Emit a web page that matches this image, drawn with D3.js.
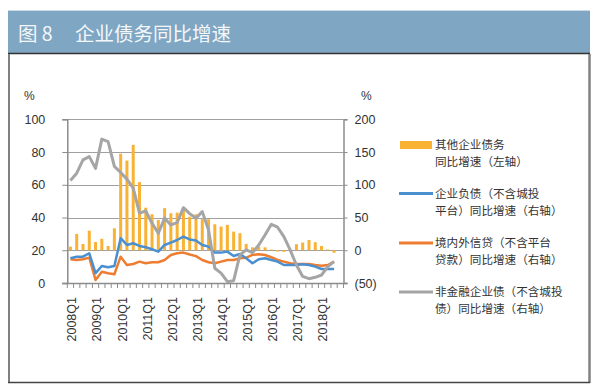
<!DOCTYPE html>
<html><head><meta charset="utf-8">
<script src="https://cdn.jsdelivr.net/npm/d3@7"></script>
<style>
html,body{margin:0;padding:0;background:#fff;}
svg{display:block;}
</style></head>
<body>
<svg id="chart" width="598" height="388"></svg>
<script>
// ---- Data ----
const quarters = [];
for (let y = 2008; y <= 2018; y++) for (let q = 1; q <= 4; q++) quarters.push(y + "Q" + q);
const tickLabels = ["2008Q1","2009Q1","2010Q1","2011Q1","2012Q1","2013Q1","2014Q1","2015Q1","2016Q1","2017Q1","2018Q1"];
const leftTicks = [0,20,40,60,80,100];
const rightTicks = [-50,0,50,100,150,200];
// 其他企业债务同比增速（左轴）— bars originate at the left-axis level 20 (= right-axis 0)
const otherDebt = [22.2,30,23.8,32,25,27,22.6,33.4,79,74.8,84.4,61.6,
  46,42,38.5,45.7,42.6,43,44.6,40.5,42,39,39,35.9,34.5,35.5,31.4,30.4,23.9,21.8,22.2,21.8,
  20.4,19.2,19,20.3,23.7,24.7,26.3,24.9,22.6,20.5,18.5,null];
const barBase = 20;
// 企业负债（不含城投平台）同比增速（右轴）
const corpLiab = [-12.2,-9.8,-9.8,-4.6,-35,-24,-26,-24,18.4,8.1,10.7,6.6,
  4.6,1.5,-2.1,8.1,11.6,15.7,20.8,16.5,15,8.1,5.5,-3.6,-3.6,-2.1,-8.7,-5.7,-12.2,-19.9,-13.8,-12.2,
  -14.8,-17.4,-22.5,-22.5,-22.5,-21.4,-22.5,-25,-28.6,-28.6,-28.6,null];
// 境内外信贷（不含平台贷款）同比增速（右轴）
const creditGrowth = [-13.8,-14.8,-13.8,-11.3,-45.4,-32.7,-35,-36.7,-9.8,-22.5,-21,-17.4,
  -19.9,-18.3,-18.3,-14.8,-7.2,-4.6,-3.6,-6.5,-9,-14.8,-18.3,-19.9,-17.4,-14.8,-14.8,-12.2,-11.3,-7.2,-6.1,-7.2,
  -10.7,-14.8,-17.4,-19.9,-21,-21,-21,-22.5,-23.5,-22.5,-17.4,null];
// 非金融企业债（不含城投债）同比增速（右轴）
const bondGrowth = [106.4,117.7,138,143,125,169.7,166,128,118.7,108.6,94.8,56.6,
  60,41.3,26,49,38.7,42.2,65,56,49,59,31,-27.5,-35,-48,-46.5,-7,0.5,-3.6,8,23.4,
  39.7,35.2,20.8,0.5,-22.5,-40,-43.4,-41.3,-37.8,-25,-17.4,null];

const legendItems = [
  {type:"bar", color:"#f9b233", lines:["其他企业债务","同比增速（左轴）"]},
  {type:"line", color:"#4a8fd0", lines:["企业负债（不含城投","平台）同比增速（右轴）"]},
  {type:"line", color:"#ed7d31", lines:["境内外信贷（不含平台","贷款）同比增速（右轴）"]},
  {type:"line", color:"#a5a5a5", lines:["非金融企业债（不含城投","债）同比增速（右轴）"]}
];

// ---- Layout ----
const svg = d3.select("#chart");
const cnFont = "'Noto Sans CJK SC','Noto Sans',sans-serif";
const numFont = "'Liberation Sans',Arial,sans-serif";

// frame and title bar
svg.append("rect").attr("x",8).attr("y",10).attr("width",582).attr("height",43).attr("fill","#7fa6c2");
svg.append("line").attr("x1",8).attr("x2",590).attr("y1",10.5).attr("y2",10.5).attr("stroke","#c9d9e5").attr("stroke-width",1);
svg.append("line").attr("x1",8).attr("x2",590).attr("y1",53.5).attr("y2",53.5).attr("stroke","#333").attr("stroke-width",1.5);
svg.append("line").attr("x1",9).attr("x2",9).attr("y1",54).attr("y2",383).attr("stroke","#808080").attr("stroke-width",2);
svg.append("line").attr("x1",589.5).attr("x2",589.5).attr("y1",54).attr("y2",383).attr("stroke","#808080").attr("stroke-width",2.5);
svg.append("line").attr("x1",8).attr("x2",590).attr("y1",382.5).attr("y2",382.5).attr("stroke","#444").attr("stroke-width",1.5);
svg.append("text").attr("x",18).attr("y",40.5).attr("fill","#f4f7fa").attr("font-family",cnFont)
  .attr("font-size",19.5).text("图 8");
svg.append("text").attr("x",75).attr("y",40.5).attr("fill","#f4f7fa").attr("font-family",cnFont)
  .attr("font-size",19.5).text("企业债务同比增速");

const x0 = 67.3, x1 = 343.5, yTop = 119.3, yBot = 283;
const x = d3.scaleBand().domain(quarters).range([x0, x1]).padding(0);
const yL = d3.scaleLinear().domain([0,100]).range([yBot, yTop]);
const yR = d3.scaleLinear().domain([-50,200]).range([yBot, yTop]);

const g = svg.append("g");
// gridlines
g.selectAll("line.grid").data(leftTicks.filter(d=>d>0)).join("line")
  .attr("x1",x0).attr("x2",x1).attr("y1",d=>Math.round(yL(d))+0.5).attr("y2",d=>Math.round(yL(d))+0.5)
  .attr("stroke","#a0a0a0").attr("stroke-width",1);

// left axis
const axL = d3.axisLeft(yL).tickValues(leftTicks).tickSize(5).tickPadding(17).tickFormat(d3.format("d"));
const gL = g.append("g").attr("transform",`translate(${x0},0)`).call(axL);
// right axis
const axR = d3.axisRight(yR).tickValues(rightTicks).tickSize(4).tickPadding(7)
  .tickFormat(d => d < 0 ? "(" + Math.abs(d) + ")" : d);
const gR = g.append("g").attr("transform",`translate(${x1},0)`).call(axR);
[gL,gR].forEach(a=>{
  a.select(".domain").attr("stroke","#8c8c8c").attr("stroke-width",1.5);
  a.selectAll(".tick line").attr("stroke","#8c8c8c");
  a.selectAll(".tick text").attr("font-family",numFont).attr("font-size",12.5).attr("fill","#333");
});

// bars
const bw = 3;
g.selectAll("rect.bar").data(quarters.map((q,i)=>({q, v:otherDebt[i]})).filter(d=>d.v!=null)).join("rect")
  .attr("x",d=>x(d.q)+x.bandwidth()/2-bw/2).attr("width",bw)
  .attr("y",d=>Math.min(yL(d.v),yL(barBase))).attr("height",d=>Math.abs(yL(d.v)-yL(barBase)))
  .attr("fill","#f9b233");

// x axis
const gX = g.append("g").attr("transform",`translate(0,${yBot})`);
gX.append("line").attr("x1",x0-5).attr("x2",x1+4).attr("y1",0.5).attr("y2",0.5).attr("stroke","#8c8c8c").attr("stroke-width",1.5);
gX.selectAll("line.tk").data(d3.range(quarters.length+1)).join("line")
  .attr("x1",i=>x0+i*x.step()).attr("x2",i=>x0+i*x.step()).attr("y1",0).attr("y2",5)
  .attr("stroke","#8c8c8c").attr("stroke-width",1);
gX.selectAll("text").data(tickLabels).join("text")
  .attr("transform",d=>`translate(${x(d)+x.bandwidth()/2+1.5},14) rotate(-90)`)
  .attr("text-anchor","end").attr("dy","0.35em")
  .attr("font-family",numFont).attr("font-size",12.5).attr("fill","#333").text(d=>d);

// lines
const mkLine = arr => d3.line().defined(d=>d!=null)
  .x((d,i)=>x(quarters[i])+x.bandwidth()/2).y(d=>yR(d))(arr);
g.append("path").attr("d",mkLine(creditGrowth)).attr("fill","none").attr("stroke","#ed7d31").attr("stroke-width",2.5).attr("stroke-linejoin","round");
g.append("path").attr("d",mkLine(corpLiab)).attr("fill","none").attr("stroke","#4a8fd0").attr("stroke-width",2.5).attr("stroke-linejoin","round");
g.append("path").attr("d",mkLine(bondGrowth)).attr("fill","none").attr("stroke","#a5a5a5").attr("stroke-width",3).attr("stroke-linejoin","round");

// unit labels
svg.append("text").attr("x",24).attr("y",100).attr("font-family",numFont).attr("font-size",12).attr("fill","#333").text("%");
svg.append("text").attr("x",361).attr("y",100).attr("font-family",numFont).attr("font-size",12).attr("fill","#333").text("%");

// legend
const legY = [145, 193.5, 243, 292];
const lg = svg.append("g");
legendItems.forEach((it,k)=>{
  const yy = legY[k];
  if (it.type==="bar") lg.append("rect").attr("x",400).attr("y",yy-4).attr("width",32).attr("height",8).attr("fill",it.color);
  else lg.append("line").attr("x1",399).attr("x2",433).attr("y1",yy).attr("y2",yy).attr("stroke",it.color).attr("stroke-width",3);
  it.lines.forEach((t,j)=>{
    lg.append("text").attr("x",435).attr("y",yy+j*17).attr("dy","0.35em")
      .attr("font-family",cnFont).attr("font-size",11.6).attr("fill","#333").text(t);
  });
});
</script>
</body></html>
